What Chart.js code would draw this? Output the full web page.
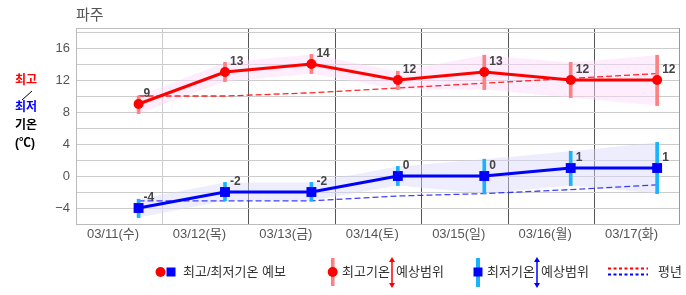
<!DOCTYPE html>
<html>
<head>
<meta charset="utf-8">
<script src="https://cdn.jsdelivr.net/npm/chart.js@4"></script>
<style>
  html, body { margin: 0; padding: 0; background: #fff; }
  #wrap { width: 686px; height: 295px; }
</style>
</head>
<body>
<div id="wrap"><canvas id="myChart" width="686" height="295"></canvas></div>
<script>
const days = ['03/11(수)', '03/12(목)', '03/13(금)', '03/14(토)', '03/15(일)', '03/16(월)', '03/17(화)'];
const hiTemp = [9, 13, 14, 12, 13, 12, 12];
const loTemp = [-4, -2, -2, 0, 0, 1, 1];
const hiRangeTop = [10, 14.2, 15.2, 13.1, 15.1, 14.2, 15.1];
const hiRangeBot = [7.8, 11.8, 12.8, 10.8, 10.8, 9.8, 8.8];
const loRangeTop = [-2.9, -0.8, -0.8, 1.2, 2.1, 3.1, 4.2];
const loRangeBot = [-5.2, -3.1, -3.1, -1.2, -2.2, -1.2, -2.2];
const hiNormal = [10.0, 10.0, 10.4, 11.0, 11.6, 12.2, 12.8];
const loNormal = [-3.1, -3.1, -3.1, -2.5, -2.2, -1.7, -1.1];
const yTicks = [-6, -4, -2, 0, 2, 4, 6, 8, 10, 12, 14, 16, 18, 18.5];

const KFONT = '"Liberation Sans", "Noto Sans CJK KR", sans-serif';

const pts = arr => arr.map((v, i) => ({x: i, y: v}));
const rng = (lo, hi) => lo.map((v, i) => ({x: i, y: [v, hi[i]]}));

const ctx = document.getElementById('myChart');

// point labels, side title, legend
const extras = {
  id: 'extras',
  afterDatasetsDraw(chart) {
    const c = chart.ctx;
    c.save();
    c.font = 'bold 12px ' + KFONT;
    c.fillStyle = '#444';
    c.textAlign = 'left';
    c.textBaseline = 'middle';
    [[6, hiTemp], [7, loTemp]].forEach(([di, vals]) => {
      chart.getDatasetMeta(di).data.forEach((p, i) => {
        c.fillText(String(vals[i]), p.x + 5, p.y - 10);
      });
    });
    c.restore();
  },
  afterDraw(chart) {
    const c = chart.ctx;
    c.save();
    c.textBaseline = 'middle';
    c.textAlign = 'left';
    // title
    c.font = '15px ' + KFONT;
    c.fillStyle = '#555';
    c.fillText('파주', 76, 16);
    // side title
    c.font = 'bold 12px ' + KFONT;
    c.fillStyle = '#f00';
    c.fillText('최고', 15, 81);
    c.strokeStyle = '#000';
    c.lineWidth = 1;
    c.beginPath(); c.moveTo(22, 100); c.lineTo(32, 91); c.stroke();
    c.fillStyle = '#00f';
    c.fillText('최저', 15, 108);
    c.fillStyle = '#000';
    c.fillText('기온', 15, 126);
    c.fillText('(℃)', 15, 144);

    // legend
    const ly = 272;
    c.font = '13px ' + KFONT;
    c.fillStyle = '#f00';
    c.beginPath(); c.arc(160.5, ly, 5, 0, Math.PI * 2); c.fill();
    c.fillStyle = '#00f';
    c.fillRect(166.5, ly - 4.5, 9, 9);
    c.fillStyle = '#333';
    c.fillText('최고/최저기온 예보', 183, ly);

    c.fillStyle = '#ff8080';
    c.fillRect(331, 258, 3.5, 28);
    c.fillStyle = '#f00';
    c.beginPath(); c.arc(332.7, ly, 5, 0, Math.PI * 2); c.fill();
    c.fillStyle = '#333';
    c.fillText('최고기온', 342, ly);
    c.fillText('예상범위', 396, ly);
    arrow(c, 392, 257, 288, '#f00');

    c.fillStyle = '#1ab2ff';
    c.fillRect(476, 258, 4, 29);
    c.fillStyle = '#00f';
    c.fillRect(473.5, ly - 4.5, 9, 9);
    c.fillStyle = '#333';
    c.fillText('최저기온', 487, ly);
    c.fillText('예상범위', 541, ly);
    arrow(c, 537, 257, 288, '#00f');

    c.lineWidth = 2;
    c.setLineDash([3, 2.5]);
    c.strokeStyle = '#f00';
    c.beginPath(); c.moveTo(608, 268.5); c.lineTo(648, 268.5); c.stroke();
    c.strokeStyle = '#00f';
    c.beginPath(); c.moveTo(608, 274.5); c.lineTo(648, 274.5); c.stroke();
    c.setLineDash([]);
    c.fillStyle = '#333';
    c.fillText('평년', 658, ly);
    c.restore();
  }
};

function arrow(c, x, y1, y2, col) {
  c.strokeStyle = col;
  c.fillStyle = col;
  c.lineWidth = 1.5;
  c.beginPath(); c.moveTo(x, y1 + 3); c.lineTo(x, y2 - 3); c.stroke();
  c.beginPath(); c.moveTo(x, y1); c.lineTo(x - 3, y1 + 5); c.lineTo(x + 3, y1 + 5); c.closePath(); c.fill();
  c.beginPath(); c.moveTo(x, y2); c.lineTo(x - 3, y2 - 5); c.lineTo(x + 3, y2 - 5); c.closePath(); c.fill();
}

const bandLine = (data, fill, color, order) => ({
  type: 'line', data: pts(data), borderWidth: 0, borderColor: 'rgba(0,0,0,0)',
  pointRadius: 0, fill: fill, backgroundColor: color, order: order, tension: 0
});

const chart = new Chart(ctx, {
  type: 'line',
  data: {
    datasets: [
      bandLine(hiRangeTop, '+1', 'rgba(250,215,250,0.45)', 10),
      bandLine(hiRangeBot, false, 'rgba(0,0,0,0)', 10),
      bandLine(loRangeTop, '+1', 'rgba(215,215,250,0.45)', 10),
      bandLine(loRangeBot, false, 'rgba(0,0,0,0)', 10),
      {
        type: 'bar', data: rng(hiRangeBot, hiRangeTop), backgroundColor: '#ff8080',
        barThickness: 3, grouped: false, borderWidth: 0, order: 6
      },
      {
        type: 'bar', data: rng(loRangeBot, loRangeTop), backgroundColor: '#1ab2ff',
        barThickness: 3, grouped: false, borderWidth: 0, order: 6
      },
      {
        label: '최고기온', data: pts(hiTemp), borderColor: '#f00', borderWidth: 3,
        pointStyle: 'circle', pointRadius: 5, pointBackgroundColor: '#f00', pointBorderWidth: 0,
        fill: false, order: 1, tension: 0
      },
      {
        label: '최저기온', data: pts(loTemp), borderColor: '#00f', borderWidth: 3,
        pointStyle: 'rect', pointRadius: 7, pointBackgroundColor: '#00f', pointBorderWidth: 0,
        fill: false, order: 1, tension: 0
      },
      {
        label: '평년 최고', data: pts(hiNormal), borderColor: 'rgba(255,0,0,0.85)', borderWidth: 1.3,
        borderDash: [6, 3], pointRadius: 0, fill: false, order: 7, tension: 0
      },
      {
        label: '평년 최저', data: pts(loNormal), borderColor: 'rgba(0,0,255,0.75)', borderWidth: 1.3,
        borderDash: [6, 3], pointRadius: 0, fill: false, order: 7, tension: 0
      }
    ]
  },
  options: {
    responsive: false,
    animation: false,
    events: [],
    layout: { padding: { top: 28, left: 0, right: 3, bottom: 47 } },
    plugins: {
      legend: { display: false },
      tooltip: { enabled: false }
    },
    scales: {
      x: {
        type: 'linear',
        min: -0.724,
        max: 6.253,
        offset: false,
        afterBuildTicks: s => {
          s.ticks = days.map((d, i) => ({value: i - 0.724}));
          s.ticks.push({value: 6.253});
        },
        afterFit: s => { s.height = 24; },
        ticks: {
          autoSkip: false,
          maxRotation: 0,
          padding: 3,
          labelOffset: 37,
          color: '#555',
          font: { size: 13, family: KFONT },
          callback: (v, i) => days[i] || ''
        },
        grid: {
          offset: false,
          drawTicks: false,
          lineWidth: 1,
          color: c => c.index === 0 ? '#bbb' : (c.index === 1 ? '#ccc' : (c.index === days.length ? '#999' : '#555'))
        },
        border: { color: '#bbb' }
      },
      y: {
        type: 'linear',
        min: -6,
        max: 18.5,
        afterBuildTicks: s => { s.ticks = yTicks.map(v => ({value: v})); },
        afterFit: s => { s.width = 76; },
        ticks: {
          autoSkip: false,
          padding: 6,
          color: '#555',
          font: { size: 13, family: KFONT },
          callback: v => (v % 4 === 0 ? String(v).replace('-', '−') : '')
        },
        grid: { drawTicks: false, color: c => c.tick && c.tick.value === 18.5 ? '#bbb' : '#ccc' },
        border: { color: '#bbb' }
      }
    }
  },
  plugins: [extras]
});
</script>
</body>
</html>
